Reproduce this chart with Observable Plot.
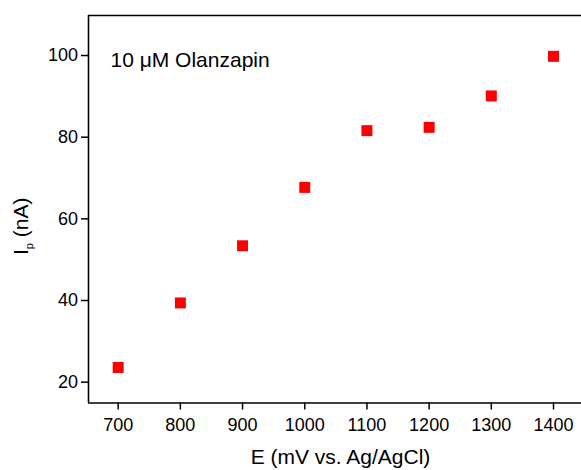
<!DOCTYPE html>
<html><head><meta charset="utf-8">
<script src="https://cdn.jsdelivr.net/npm/d3@7"></script>
<script src="https://cdn.jsdelivr.net/npm/@observablehq/plot@0.6"></script>
<style>body{margin:0;background:#fff}</style>
</head><body><div id="chart"></div>
<script>
const potentials = [700, 800, 900, 1000, 1100, 1200, 1300, 1400];
const currents = [23.6, 39.4, 53.4, 67.7, 81.6, 82.4, 90.1, 99.8];
const xTicks = [700, 800, 900, 1000, 1100, 1200, 1300, 1400];
const yTicks = [20, 40, 60, 80, 100];
const xDomain = [652.3, 1445];
const yDomain = [14.9, 109.8];
const annotation = "10 μM Olanzapin";
const xLabel = "E (mV vs. Ag/AgCl)";

const data = potentials.map((e, i) => ({e, ip: currents[i]}));

const plot = Plot.plot({
  width: 581, height: 470,
  marginLeft: 88, marginRight: 0, marginTop: 15, marginBottom: 67.5,
  style: {fontFamily: "'Liberation Sans', Arial, sans-serif", fontSize: "18px", color: "#000", background: "#fff", overflow: "visible"},
  x: {domain: xDomain},
  y: {domain: yDomain},
  marks: [
    Plot.ruleX([xDomain[0]], {stroke: "#000", strokeWidth: 1.6}),
    Plot.ruleY(yDomain, {stroke: "#000", strokeWidth: 1.6}),
    Plot.axisX(xTicks, {tickSize: 7, tickPadding: 8.5, strokeWidth: 1.5, label: null, fontSize: 18, tickFormat: d => String(d)}),
    Plot.axisY(yTicks, {tickSize: 7, tickPadding: 3.5, strokeWidth: 1.5, label: null, fontSize: 18, tickFormat: d => String(d)}),
    Plot.dot(data, {x: "e", y: "ip", symbol: "square", r: 6.2, fill: "#ff0000", stroke: "none"}),
    Plot.text([annotation], {frameAnchor: "top-left", textAnchor: "start", lineAnchor: "bottom", dx: 22, dy: 51.7, fontSize: 21}),
    Plot.text([xLabel], {frameAnchor: "bottom", lineAnchor: "bottom", dx: 5.5, dy: 60.5, fontSize: 21})
  ]
});

const svg = d3.select(plot);
const t = svg.append("text")
  .attr("transform", "translate(28,255) rotate(-90)")
  .attr("text-anchor", "start")
  .attr("font-size", 21)
  .attr("fill", "#000");
t.append("tspan").text("I");
t.append("tspan").attr("font-size", 11).attr("dy", 5).text("p");
t.append("tspan").attr("dy", -5).text(" (nA)");

document.getElementById("chart").append(plot);
</script>
</body></html>
